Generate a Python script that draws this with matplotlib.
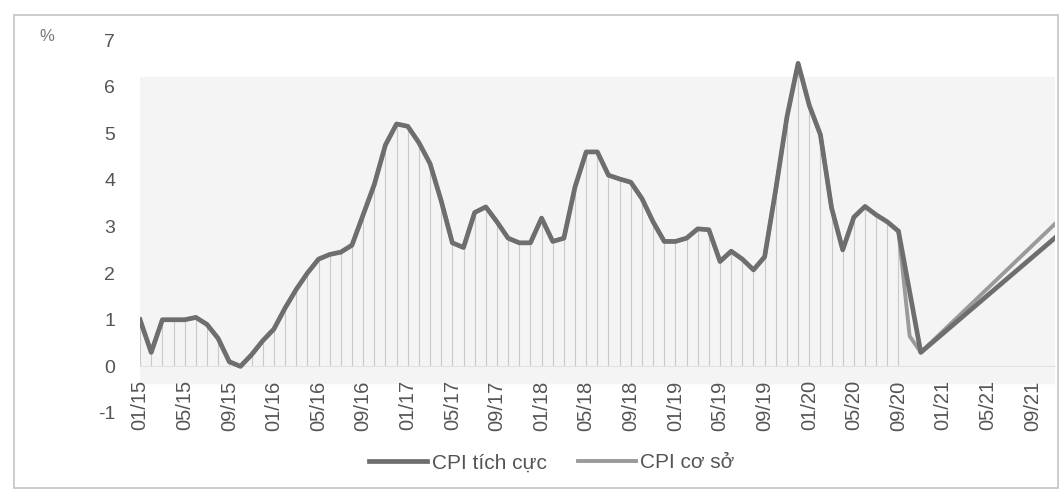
import numpy as np
import matplotlib.pyplot as plt
from matplotlib.patches import Rectangle

plt.rcParams['font.family'] = ['Liberation Sans', 'DejaVu Sans']
plt.rcParams['axes.unicode_minus'] = False

# monthly CPI (%, yoy) from 01/2015 to 09/2020
cpi_hist = [1.0, 0.3, 1.0, 1.0, 1.0, 1.05, 0.9, 0.6, 0.1, 0.0,
            0.25, 0.55, 0.8, 1.25, 1.65, 2.0, 2.3, 2.4, 2.45, 2.6,
            3.25, 3.9, 4.75, 5.2, 5.15, 4.8, 4.35, 3.55, 2.65, 2.55,
            3.3, 3.42, 3.1, 2.75, 2.65, 2.65, 3.18, 2.68, 2.75, 3.85,
            4.6, 4.6, 4.1, 4.02, 3.95, 3.6, 3.1, 2.68, 2.68, 2.75,
            2.95, 2.93, 2.25, 2.47, 2.3, 2.07, 2.35, 3.8, 5.35, 6.5,
            5.6, 4.97, 3.4, 2.5, 3.2, 3.43, 3.25, 3.1, 2.9]

# scenario paths (month index counted from 01/2015)
pos_months = [68, 70, 82]
pos_values = [2.9, 0.3, 2.75]
base_months = [68, 69, 70, 82]
base_values = [2.9, 0.65, 0.3, 3.05]

tick_months = list(range(0, 81, 4))
tick_labels = ['01/15', '05/15', '09/15', '01/16', '05/16', '09/16', '01/17',
               '05/17', '09/17', '01/18', '05/18', '09/18', '01/19', '05/19',
               '09/19', '01/20', '05/20', '09/20', '01/21', '05/21', '09/21']

hist_x = np.arange(len(cpi_hist))
txt = '#555555'

fig = plt.figure(figsize=(10.61, 4.92), dpi=100)
ax = fig.add_axes([0.132, 0.1606, 0.862, 0.758])

# x axis sits on the zero line (do this before styling the ticks)
for s in ['top', 'right', 'left']:
    ax.spines[s].set_visible(False)
ax.spines['bottom'].set_position(('data', 0))
ax.spines['bottom'].set_color('#e2e2e2')

# light plot-area shading and monthly drop lines
ax.axhspan(-0.35, 6.2, color='#f4f4f4', zorder=0)
ax.vlines(hist_x, 0, cpi_hist, color='#c9c9c9', lw=0.8, zorder=1)

ax.plot(np.r_[hist_x, base_months[1:]], np.r_[cpi_hist, base_values[1:]],
        color='#9a9a9a', lw=2.8, label='CPI cơ sở', zorder=3,
        solid_joinstyle='round')
ax.plot(np.r_[hist_x, pos_months[1:]], np.r_[cpi_hist, pos_values[1:]],
        color='#6e6e6e', lw=3.4, label='CPI tích cực', zorder=4,
        solid_joinstyle='round')

ax.set_xlim(0, 82)
ax.set_ylim(-1, 7)
ax.set_yticks(range(-1, 8))
ax.set_xticks(tick_months)
ax.set_xticklabels(tick_labels, rotation=90)
ax.tick_params(axis='y', length=0, pad=18, labelsize=14, labelcolor=txt)
ax.tick_params(axis='x', length=0, pad=10, labelsize=14.5, labelcolor=txt)
ax.set_facecolor('none')

fig.text(0.044, 0.925, '%', fontsize=12, color='#777777', ha='center', va='center')

handles, labels = ax.get_legend_handles_labels()
fig.legend(handles[::-1], labels[::-1], loc='center', bbox_to_anchor=(0.52, 0.059),
           ncol=2, frameon=False, fontsize=15, handlelength=2.8, columnspacing=1.5,
           handletextpad=0.2, labelcolor=txt)

# outer border around the chart
fig.patches.append(Rectangle((14 / 1061, 4 / 492), 1044 / 1061, 473 / 492,
                             transform=fig.transFigure, fill=False,
                             edgecolor='#c4c4c4', lw=1.2))

fig.savefig('out.png', dpi=100)
